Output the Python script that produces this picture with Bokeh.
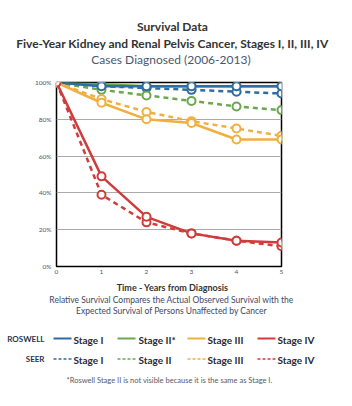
from bokeh.plotting import figure
from bokeh.layouts import column
from bokeh.models import Range1d, FixedTicker, CustomJSTickFormatter
from bokeh.core.properties import value
from bokeh.embed import file_html
from bokeh.resources import INLINE

years = [0, 1, 2, 3, 4, 5]
roswell_stage1 = [100, 98, 98, 98, 98, 98]
roswell_stage2 = [100, 99, 98, 98, 98, 98]
roswell_stage3 = [100, 89, 80, 78, 69, 69]
roswell_stage4 = [100, 49, 27, 18, 14, 13]
seer_stage1 = [100, 98, 97, 96, 95, 94]
seer_stage2 = [100, 96, 93, 90, 87, 85]
seer_stage3 = [100, 91, 84, 79, 75, 71]
seer_stage4 = [100, 39, 24, 18, 14, 11]
y_ticks = [0, 20, 40, 60, 80, 100]
stage_labels = ["Stage I", "Stage II", "Stage III", "Stage IV"]
roswell_labels = ["Stage I", "Stage II*", "Stage III", "Stage IV"]

BLUE = "#2f6ca3"
GREEN = "#6aa84f"
ORANGE = "#f0b040"
RED = "#d03c3c"
colors = [BLUE, GREEN, ORANGE, RED]

FONT = "Lato"
W = 352

# ---------- header ----------
HH = 76
hdr = figure(width=W, height=HH, x_range=Range1d(0, W), y_range=Range1d(HH, 0),
             output_backend="svg", toolbar_location=None, min_border=0, frame_align=False)
hdr.axis.visible = False
hdr.grid.visible = False
hdr.outline_line_color = None
hdr.text(x=[172], y=[26], text=["Survival Data"], text_font=value(FONT),
         text_font_size="12px", text_font_style="bold", text_color="#333333",
         text_align="center", text_baseline="middle")
hdr.text(x=[172], y=[42.5], text=["Five-Year Kidney and Renal Pelvis Cancer, Stages I, II, III, IV"],
         text_font=value(FONT), text_font_size="12px", text_font_style="bold",
         text_color="#333333", text_align="center", text_baseline="middle")
hdr.text(x=[172], y=[59], text=["Cases Diagnosed  (2006-2013)"], text_font=value(FONT),
         text_font_size="12px", text_color="#4a5670", text_align="center", text_baseline="middle")

# ---------- main plot ----------
p = figure(width=W, height=204, x_range=Range1d(0, 5), y_range=Range1d(0, 100),
           output_backend="svg", toolbar_location=None, frame_align=False,
           min_border_left=56, min_border_right=71, min_border_top=6, min_border_bottom=14)
p.outline_line_color = "black"
p.outline_line_width = 1.5
p.xgrid.visible = False
p.ygrid.ticker = FixedTicker(ticks=y_ticks)
p.ygrid.grid_line_color = "#aaaaaa"
p.ygrid.grid_line_width = 1
p.xaxis.ticker = FixedTicker(ticks=years)
p.yaxis.ticker = FixedTicker(ticks=y_ticks)
p.yaxis.formatter = CustomJSTickFormatter(code="return tick + '%';")
for ax in (p.xaxis[0], p.yaxis[0]):
    ax.axis_line_color = None
    ax.major_tick_line_color = None
    ax.minor_tick_line_color = None
    ax.major_tick_out = 0
    ax.minor_tick_out = 0
    ax.major_tick_in = 0
    ax.minor_tick_in = 0
    ax.major_label_text_font = FONT
    ax.major_label_text_font_size = "6.5px"
    ax.major_label_text_color = "#4a5670"
p.yaxis.major_label_standoff = 5
p.xaxis.major_label_standoff = 3

seer = [seer_stage1, seer_stage2, seer_stage3, seer_stage4]
roswell = [roswell_stage2, roswell_stage1, roswell_stage3, roswell_stage4]
roswell_colors = [GREEN, BLUE, ORANGE, RED]

for vals, c in zip(seer, colors):
    p.line(years, vals, line_color=c, line_width=2.5, line_dash="5 4")
    p.scatter(years, vals, marker="circle", size=8, fill_color="white",
              line_color=c, line_width=2)
for vals, c in zip(roswell, roswell_colors):
    p.line(years, vals, line_color=c, line_width=2.5)
    p.scatter(years, vals, marker="circle", size=8, fill_color="white",
              line_color=c, line_width=2)

# ---------- footer / legend ----------
Y0 = HH + 204
FH = 406 - Y0
ft = figure(width=W, height=FH, x_range=Range1d(0, W), y_range=Range1d(Y0 + FH, Y0),
            output_backend="svg", toolbar_location=None, min_border=0, frame_align=False)
ft.axis.visible = False
ft.grid.visible = False
ft.outline_line_color = None

ft.text(x=[172], y=[287], text=["Time - Years from Diagnosis"], text_font=value(FONT),
        text_font_size="9px", text_font_style="bold", text_color="#333333",
        text_align="center", text_baseline="middle")
ft.text(x=[171, 171], y=[299.5, 310.5],
        text=["Relative Survival Compares the Actual Observed Survival with the",
              "Expected Survival of Persons Unaffected by Cancer"],
        text_font=value(FONT), text_font_size="8.5px", text_color="#3b4766",
        text_align="center", text_baseline="middle")

ft.text(x=[44, 44], y=[338, 358.5], text=["ROSWELL", "SEER"], text_font=value(FONT),
        text_font_size="8px", text_font_style="bold", text_color="#2b3550",
        text_align="right", text_baseline="middle")

line_x0 = [53, 117, 187, 257]
text_x0 = [73, 138, 207, 277]
for i in range(4):
    ft.line([line_x0[i], line_x0[i] + 18], [338, 338], line_color=colors[i], line_width=2.2)
    ft.line([line_x0[i], line_x0[i] + 18], [358.5, 358.5], line_color=colors[i],
            line_width=1.5, line_dash="3 2")
ft.text(x=text_x0, y=[339] * 4, text=roswell_labels, text_font=value(FONT),
        text_font_size="10px", text_font_style="bold", text_color="#2a2a35",
        text_align="left", text_baseline="middle")
ft.text(x=text_x0, y=[359] * 4, text=stage_labels, text_font=value(FONT),
        text_font_size="10px", text_font_style="bold", text_color="#2a2a35",
        text_align="left", text_baseline="middle")

ft.text(x=[169], y=[379.5], text=["*Roswell Stage II is not visible because it is the same as Stage I."],
        text_font=value(FONT), text_font_size="7.5px", text_color="#555a6a",
        text_align="center", text_baseline="middle")

layout = column(hdr, p, ft, spacing=0)
open("out.html", "w").write(file_html(layout, INLINE))
